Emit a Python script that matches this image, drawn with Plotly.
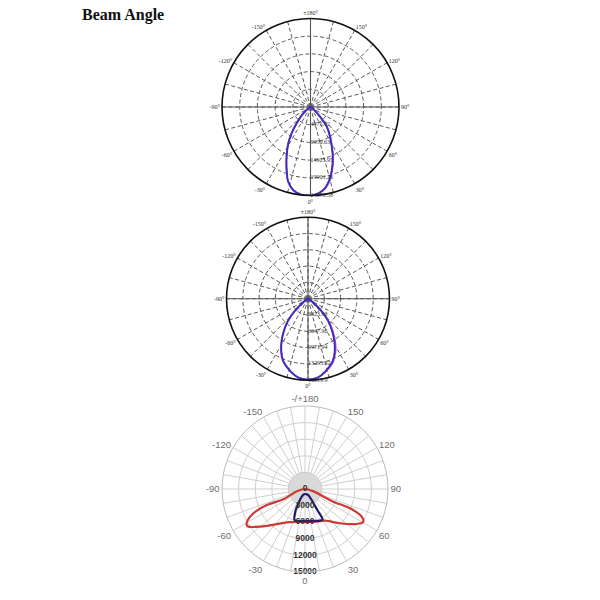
import plotly.graph_objects as go

# ---------------- data ----------------
# Upper chart: two measured planes (cd), angles in degrees (0 = downward)
theta_a = [-180, -90, -60, -48.8, -40.3, -35.6, -31.4, -25.6, -20.7, -16.6, -11.7, -5.7, 0,
           1.8, 8.8, 14.4, 18.6, 24.1, 28.1, 33.3, 39.4, 44.4, 55, 90, 180]
cd_a_c0 = [0, 0, 500, 2700, 6000, 9080, 11950, 15500, 18900, 21900, 23830, 24850, 24870,
           24870, 23600, 21200, 18700, 15300, 12650, 9980, 7170, 3800, 800, 0, 0]
cd_a_c90 = [0, 0, 550, 2800, 6100, 9200, 12100, 15700, 19100, 22000, 23900, 24850, 24870,
            24870, 23700, 21500, 19000, 15600, 12900, 10250, 7450, 4050, 900, 0, 0]
rings_a = [4975.32, 9950.63, 14925.95, 19901.26, 24876.58]

# Middle chart
theta_b = [-180, -90, -65, -55, -50, -47, -42, -37, -32, -27, -21.5, -13, -7, 0,
           7, 13, 21.5, 27, 32, 37, 42, 47, 50, 55, 65, 90, 180]
cd_b_c0 = [0, 0, 200, 900, 2400, 3700, 6100, 8100, 10100, 12000, 13700, 15300, 16200, 16520,
           16200, 15300, 13700, 12000, 10100, 8100, 6100, 3700, 2400, 900, 200, 0, 0]
cd_b_c90 = [0, 0, 250, 1000, 2500, 3800, 6200, 8200, 10200, 12100, 13800, 15350, 16200, 16520,
            16200, 15400, 13900, 12300, 10500, 8500, 6500, 4100, 2700, 1100, 300, 0, 0]
rings_b = [3323.98, 6647.96, 9971.94, 13295.92, 16619.9]

# Lower chart: batwing (red) and narrow beam (navy), listed in outline order
theta_red = [-90, -75, -64.6, -67.3, -64.8, -61.6, -58.3, -56.4, -46, -28.5, -15, 0,
             15, 32.3, 45.6, 55.9, 60.7, 64, 66.8, 65.8, 75, 90]
cd_red = [0, 1500, 4340, 7500, 10300, 11750, 12380, 12290, 9580, 6870, 6150, 5960,
          6150, 6780, 8850, 11280, 12080, 11400, 8850, 5600, 1500, 0]
theta_navy = [0, -10, -23, -23.9, -19.5, -16.4, 0, 25.3, 30.3, 30.4, 31.3, 28.8, 15, 0]
cd_navy = [900, 950, 1510, 4150, 5800, 5970, 5780, 6330, 6340, 4400, 2330, 1240, 1000, 900]
rings_c = [0, 3000, 6000, 9000, 12000, 15000]

# angular tick labels
tick_vals_15 = list(range(0, 360, 15))
tick_vals_10 = list(range(0, 360, 10))
deg_labels = {0: "0°", 30: "30°", 60: "60°", 90: "90°", 120: "120°", 150: "150°",
              180: "±180°", 210: "-150°", 240: "-120°", 270: "-90°", 300: "-60°", 330: "-30°"}
plain_labels = {0: "0", 30: "30", 60: "60", 90: "90", 120: "120", 150: "150",
                180: "-/+180", 210: "-150", 240: "-120", 270: "-90", 300: "-60", 330: "-30"}

W = H = 600


def dom(cx, cy, r):
    return dict(x=[(cx - r) / W, (cx + r) / W], y=[1 - (cy + r) / H, 1 - (cy - r) / H])


SERIF = "Liberation Serif, Times New Roman, serif"
SANS = "Liberation Sans, Arial, sans-serif"
DASH = "4px,2.5px"

fig = go.Figure()


def dashed_polar(rmax, rings, domain):
    return dict(
        domain=domain,
        bgcolor="white",
        radialaxis=dict(range=[0, rmax], tickvals=rings, showticklabels=False, ticks="",
                        showline=False, gridcolor="#5a5a5a", gridwidth=0.9, griddash=DASH),
        angularaxis=dict(rotation=-90, direction="counterclockwise", tickmode="array",
                         tickvals=tick_vals_15,
                         ticktext=[deg_labels.get(v, "") for v in tick_vals_15],
                         ticks="", showline=True, linecolor="#111111", linewidth=1.6,
                         gridcolor="#5a5a5a", gridwidth=0.9, griddash=DASH,
                         tickfont=dict(family=SERIF, size=6, color="#333333")),
    )


def add_dashed_chart(name, rmax, rings, theta, c0, c90):
    # solid main axes through the centre
    for a in (0, 90):
        fig.add_trace(go.Scatterpolar(r=[rmax, rmax], theta=[a, a + 180], mode="lines",
                                      line=dict(color="#555555", width=1.1),
                                      subplot=name, showlegend=False, hoverinfo="skip"))
    fig.add_trace(go.Scatterpolar(r=c90, theta=theta, mode="lines",
                                  line=dict(color="#c04ad0", width=1.8, shape="spline"),
                                  subplot=name, showlegend=False))
    fig.add_trace(go.Scatterpolar(r=c0, theta=theta, mode="lines",
                                  line=dict(color="#3a2cc0", width=1.8, shape="spline"),
                                  subplot=name, showlegend=False))
    fig.add_trace(go.Scatterpolar(r=rings, theta=[0] * len(rings), mode="text",
                                  text=[str(v) for v in rings], textposition="middle right",
                                  textfont=dict(family=SERIF, size=6, color="#333333"),
                                  subplot=name, showlegend=False, hoverinfo="skip"))


add_dashed_chart("polar", rings_a[-1], rings_a, theta_a, cd_a_c0, cd_a_c90)
add_dashed_chart("polar2", rings_b[-1], rings_b, theta_b, cd_b_c0, cd_b_c90)

# lower chart
disk_theta = list(range(0, 361, 5))
fig.add_trace(go.Scatterpolar(r=[rings_c[1]] * len(disk_theta), theta=disk_theta, mode="lines",
                              fill="toself", fillcolor="#d9d9d9", line=dict(color="#cccccc", width=0.8),
                              subplot="polar3", showlegend=False, hoverinfo="skip"))
fig.add_trace(go.Scatterpolar(r=cd_red, theta=theta_red, mode="lines",
                              line=dict(color="#cc3a33", width=2.2, shape="spline", smoothing=0.8),
                              subplot="polar3", showlegend=False))
fig.add_trace(go.Scatterpolar(r=cd_navy, theta=theta_navy, mode="lines",
                              line=dict(color="#1e1c6a", width=2.2, shape="spline", smoothing=0.6),
                              subplot="polar3", showlegend=False))
fig.add_trace(go.Scatterpolar(r=rings_c, theta=[0] * len(rings_c), mode="text",
                              text=[f"<b>{v}</b>" for v in rings_c], textposition="middle center",
                              textfont=dict(family=SANS, size=8.5, color="#333333"),
                              subplot="polar3", showlegend=False, hoverinfo="skip"))

fig.update_layout(
    width=W, height=H, autosize=False,
    margin=dict(l=0, r=0, t=0, b=0),
    paper_bgcolor="white", plot_bgcolor="white",
    polar=dashed_polar(rings_a[-1], rings_a, dom(310.5, 107, 88.5)),
    polar2=dashed_polar(rings_b[-1], rings_b, dom(308, 298.7, 81.5)),
    polar3=dict(
        domain=dom(305, 489, 83),
        bgcolor="white",
        radialaxis=dict(range=[0, rings_c[-1]], tickvals=rings_c[1:], showticklabels=False, ticks="",
                        showline=False, gridcolor="#cfcfcf", gridwidth=1),
        angularaxis=dict(rotation=-90, direction="counterclockwise", tickmode="array",
                         tickvals=tick_vals_10,
                         ticktext=[plain_labels.get(v, "") for v in tick_vals_10],
                         ticks="", showline=True, linecolor="#bbbbbb", linewidth=1,
                         gridcolor="#cfcfcf", gridwidth=1,
                         tickfont=dict(family=SANS, size=9.5, color="#6e6e6e")),
    ),
    annotations=[dict(text="<b>Beam Angle</b>", x=80 / W, y=1 - 15 / H, xref="paper", yref="paper",
                      xanchor="left", yanchor="middle", showarrow=False,
                      font=dict(family=SERIF, size=16, color="#111111"))],
)

fig.write_html("out.html")
